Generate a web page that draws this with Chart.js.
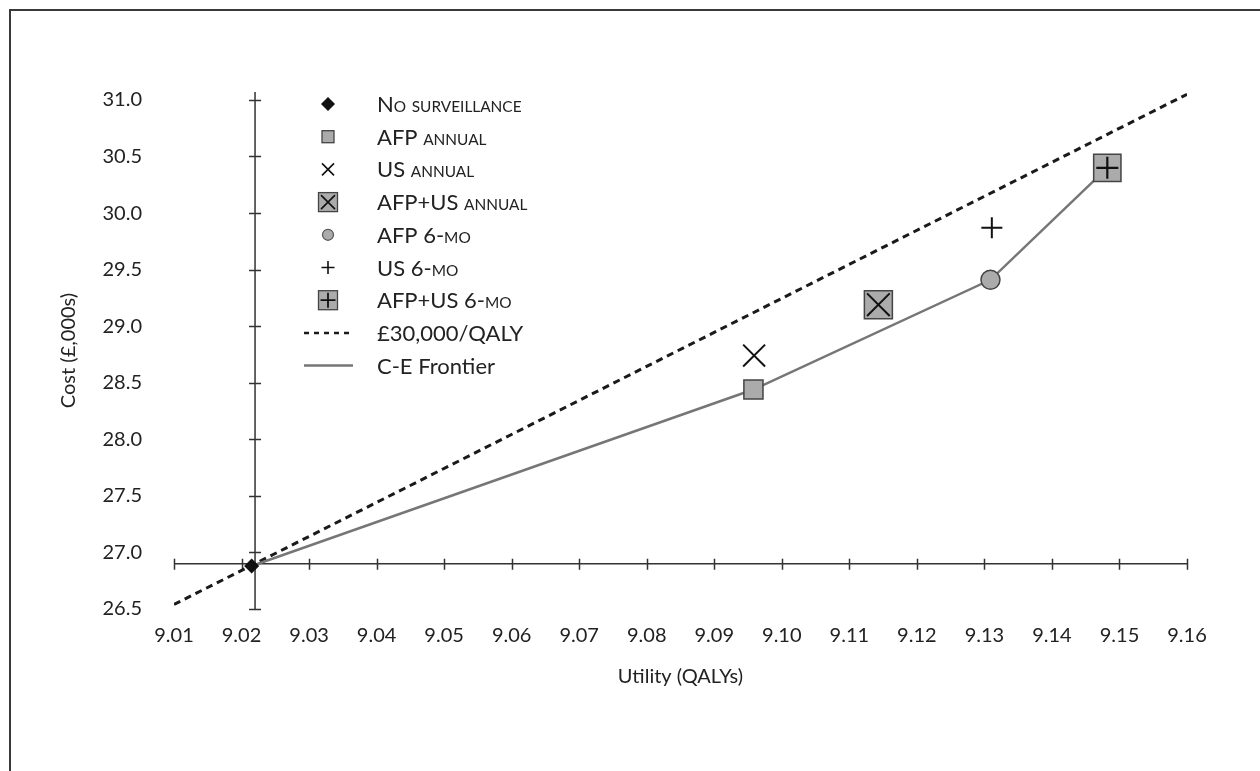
<!DOCTYPE html>
<html>
<head>
<meta charset="utf-8">
<script src="https://cdn.jsdelivr.net/npm/chart.js@4.4.1/dist/chart.umd.min.js"></script>
<style>
  html, body { margin: 0; padding: 0; background: #fff; }
  #wrap { position: relative; width: 1260px; height: 771px; overflow: hidden; }
  #frame { position: absolute; left: 9px; top: 9px; width: 1400px; height: 900px; border: 2px solid #3a3a3a; }
  #cea { position: absolute; left: 0; top: 0; }
</style>
</head>
<body>
<div id="wrap">
  <div id="frame"></div>
  <canvas id="cea" width="1260" height="771"></canvas>
</div>
<script>
// surveillance strategies: expected QALYs and cost (£000s)
const strategies = ['No surveillance', 'AFP annual', 'US annual', 'AFP+US annual', 'AFP 6-mo', 'US 6-mo', 'AFP+US 6-mo'];
const utility = [9.0215, 9.0958, 9.0959, 9.1143, 9.1309, 9.1311, 9.1482];
const cost = [26.88, 28.44, 28.74, 29.19, 29.41, 29.87, 30.40];

// strategies on the cost-effectiveness frontier, in order
const frontierIdx = [0, 1, 4, 6];

// £30,000 per QALY threshold line
const wtpUtility = [9.01, 9.16];
const wtpCost = [26.54, 31.05];

const xTicks = [9.01, 9.02, 9.03, 9.04, 9.05, 9.06, 9.07, 9.08, 9.09, 9.10, 9.11, 9.12, 9.13, 9.14, 9.15, 9.16];
const yTicks = [26.5, 27.0, 27.5, 28.0, 28.5, 29.0, 29.5, 30.0, 30.5, 31.0];

// where the drawn axes cross
const axisCross = { x: 9.022, y: 26.9 };

const FONT = 'Lato';
const INK = '#222';
const FILL = '#ababab';
const EDGE = '#444';

function pt(i) { return [{ x: utility[i], y: cost[i] }]; }

function marker(i, style, r, opts) {
  return Object.assign({
    label: strategies[i],
    data: pt(i),
    pointStyle: style,
    pointRadius: r,
    pointHoverRadius: r,
    backgroundColor: FILL,
    borderColor: EDGE,
    pointBorderWidth: 1.5,
    order: 1
  }, opts || {});
}

const datasets = [
  marker(0, 'rectRot', 6.5, { backgroundColor: '#111', borderColor: '#111', order: 0 }),
  marker(1, 'rect', 13.5),
  marker(2, 'crossRot', 15.5, { borderColor: '#111', pointBorderWidth: 2 }),
  marker(3, 'rect', 19.8, { order: 2 }),
  marker(3, 'crossRot', 16, { borderColor: '#111', pointBorderWidth: 2 }),
  marker(4, 'circle', 9.5),
  marker(5, 'cross', 10.5, { borderColor: '#111', pointBorderWidth: 2 }),
  marker(6, 'rect', 19.3, { order: 2 }),
  marker(6, 'cross', 11, { borderColor: '#111', pointBorderWidth: 2.2 }),
  {
    label: '£30,000/QALY',
    data: wtpUtility.map((u, k) => ({ x: u, y: wtpCost[k] })),
    showLine: true,
    borderColor: '#1a1a1a',
    borderWidth: 3,
    borderDash: [7, 5],
    pointRadius: 0,
    order: 5
  },
  {
    label: 'C-E Frontier',
    data: frontierIdx.map(i => ({ x: utility[i], y: cost[i] })),
    showLine: true,
    borderColor: '#767676',
    borderWidth: 2.5,
    pointRadius: 0,
    order: 4
  }
];

// legend entries: text, small-caps flag, glyph
const legendItems = [
  [strategies[0], true, 'diamond'],
  [strategies[1], true, 'square'],
  [strategies[2], true, 'x'],
  [strategies[3], true, 'boxX'],
  [strategies[4], true, 'circle'],
  [strategies[5], true, 'plus'],
  [strategies[6], true, 'boxPlus'],
  ['£30,000/QALY', false, 'dash'],
  ['C-E Frontier', false, 'line']
];

function drawGlyph(ctx, kind, x, y) {
  ctx.save();
  ctx.lineCap = 'butt';
  const box = (h) => {
    ctx.fillStyle = FILL; ctx.strokeStyle = EDGE; ctx.lineWidth = 1.3;
    ctx.fillRect(x - h, y - h, 2 * h, 2 * h);
    ctx.strokeRect(x - h, y - h, 2 * h, 2 * h);
  };
  const ex = (h, w) => {
    ctx.strokeStyle = '#111'; ctx.lineWidth = w;
    ctx.beginPath();
    ctx.moveTo(x - h, y - h); ctx.lineTo(x + h, y + h);
    ctx.moveTo(x + h, y - h); ctx.lineTo(x - h, y + h);
    ctx.stroke();
  };
  const plus = (h, w) => {
    ctx.strokeStyle = '#111'; ctx.lineWidth = w;
    ctx.beginPath();
    ctx.moveTo(x - h, y); ctx.lineTo(x + h, y);
    ctx.moveTo(x, y - h); ctx.lineTo(x, y + h);
    ctx.stroke();
  };
  switch (kind) {
    case 'diamond':
      ctx.fillStyle = '#111';
      ctx.beginPath();
      ctx.moveTo(x, y - 7); ctx.lineTo(x + 7, y); ctx.lineTo(x, y + 7); ctx.lineTo(x - 7, y);
      ctx.closePath(); ctx.fill();
      break;
    case 'square': box(6); break;
    case 'x': ex(6, 1.6); break;
    case 'boxX': box(9.5); ex(7, 1.6); break;
    case 'circle':
      ctx.fillStyle = FILL; ctx.strokeStyle = '#555'; ctx.lineWidth = 1.2;
      ctx.beginPath(); ctx.arc(x, y, 5.5, 0, Math.PI * 2); ctx.fill(); ctx.stroke();
      break;
    case 'plus': plus(6.5, 1.6); break;
    case 'boxPlus': box(9.5); plus(7.5, 1.8); break;
    case 'dash':
      ctx.strokeStyle = '#1a1a1a'; ctx.lineWidth = 2.5; ctx.setLineDash([5, 5]);
      ctx.beginPath(); ctx.moveTo(x - 24, y); ctx.lineTo(x + 25, y); ctx.stroke();
      break;
    case 'line':
      ctx.strokeStyle = '#767676'; ctx.lineWidth = 2.5;
      ctx.beginPath(); ctx.moveTo(x - 24, y); ctx.lineTo(x + 25, y); ctx.stroke();
      break;
  }
  ctx.restore();
}

// lowercase runs are set as small capitals
function drawLabel(ctx, text, x, y, size, smallCaps) {
  ctx.fillStyle = INK;
  ctx.textBaseline = 'alphabetic';
  ctx.textAlign = 'left';
  if (!smallCaps) {
    ctx.font = size + 'px ' + FONT;
    ctx.fillText(text, x, y);
    return;
  }
  for (const run of text.match(/[a-z]+|[^a-z]+/g)) {
    const lower = /[a-z]/.test(run[0]);
    const t = lower ? run.toUpperCase() : run;
    ctx.font = (lower ? size * 0.7 : size) + 'px ' + FONT;
    ctx.fillText(t, x, y);
    x += ctx.measureText(t).width;
  }
}

const crossAxes = {
  id: 'crossAxes',
  beforeDatasetsDraw(chart) {
    const { ctx, scales: { x, y } } = chart;
    const x0 = x.getPixelForValue(axisCross.x);
    const y0 = y.getPixelForValue(axisCross.y);
    ctx.save();
    ctx.strokeStyle = '#333';
    ctx.lineWidth = 1.5;
    ctx.beginPath();
    ctx.moveTo(x.left, y0); ctx.lineTo(x.right, y0);
    xTicks.forEach(v => {
      const px = Math.round(x.getPixelForValue(v)) + 0.5;
      ctx.moveTo(px, y0 - 5); ctx.lineTo(px, y0 + 6);
    });
    ctx.moveTo(x0, y.getPixelForValue(yTicks[0])); ctx.lineTo(x0, chart.chartArea.top);
    yTicks.forEach(v => {
      const py = Math.round(y.getPixelForValue(v)) + 0.5;
      ctx.moveTo(x0 - 6, py); ctx.lineTo(x0 + 6, py);
    });
    ctx.stroke();
    ctx.restore();
  },
  afterDraw(chart) {
    const ctx = chart.ctx;
    legendItems.forEach(([text, caps, glyph], k) => {
      const cy = 104 + k * 32.7;
      drawGlyph(ctx, glyph, 328, cy);
      drawLabel(ctx, text, 377, cy + 8, 22, caps);
    });
  }
};

new Chart(document.getElementById('cea'), {
  type: 'scatter',
  data: { datasets },
  plugins: [crossAxes],
  options: {
    responsive: false,
    animation: false,
    devicePixelRatio: 1,
    layout: { padding: { left: 40, right: 73, top: 92, bottom: 81 } },
    plugins: { legend: { display: false }, tooltip: { enabled: false } },
    scales: {
      x: {
        type: 'linear',
        min: 9.01,
        max: 9.16,
        afterBuildTicks: s => { s.ticks = xTicks.map(v => ({ value: v })); },
        afterFit: s => { s.height = 81; },
        grid: { display: false, drawTicks: false, tickLength: 0 },
        border: { display: false },
        ticks: {
          padding: 15,
          color: INK,
          font: { family: FONT, size: 20 },
          maxRotation: 0,
          autoSkip: false,
          callback: v => v.toFixed(2)
        },
        title: {
          display: true,
          text: 'Utility (QALYs)',
          color: INK,
          font: { family: FONT, size: 20 },
          padding: { top: 0, bottom: 1 }
        }
      },
      y: {
        type: 'linear',
        min: 26.5,
        max: 31.07,
        afterBuildTicks: s => { s.ticks = yTicks.map(v => ({ value: v })); },
        afterFit: s => { s.width = 134; },
        grid: { display: false, drawTicks: false, tickLength: 0 },
        border: { display: false },
        ticks: {
          padding: 32,
          color: INK,
          font: { family: FONT, size: 20 },
          autoSkip: false,
          callback: v => v.toFixed(1)
        },
        title: {
          display: true,
          text: 'Cost (£,000s)',
          color: INK,
          font: { family: FONT, size: 20 },
          padding: { top: 17, bottom: 0 }
        }
      }
    }
  }
});
</script>
</body>
</html>
